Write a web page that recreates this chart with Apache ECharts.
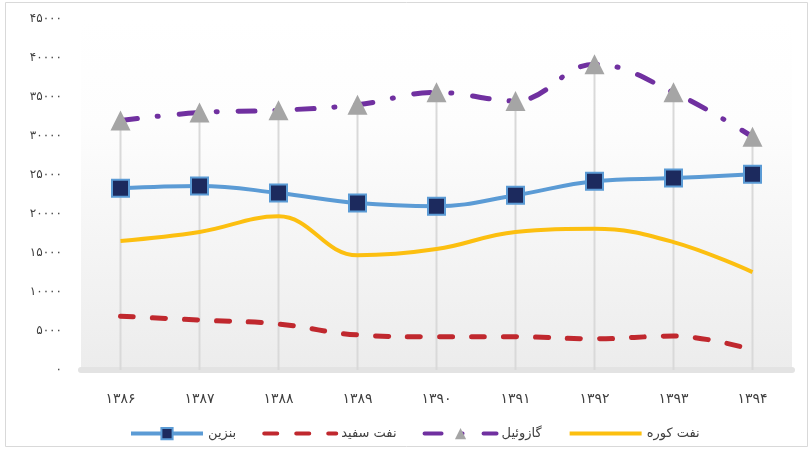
<!DOCTYPE html>
<html>
<head>
<meta charset="utf-8">
<script src="https://cdn.jsdelivr.net/npm/echarts@6/dist/echarts.min.js"></script>
<style>html,body{margin:0;padding:0;background:#fff}#c{width:811px;height:449px}</style>
</head>
<body>
<div id="c"></div>
<script>
const categories = ['۱۳۸۶','۱۳۸۷','۱۳۸۸','۱۳۸۹','۱۳۹۰','۱۳۹۱','۱۳۹۲','۱۳۹۳','۱۳۹۴'];
const seriesNames = ['بنزین','نفت سفید','گازوئیل','نفت کوره'];
const benzin    = [23300, 23600, 22700, 21400, 21000, 22400, 24200, 24600, 25100];
const naftSefid = [6900, 6400, 5900, 4500, 4250, 4250, 4000, 4350, 2600];
const gasoil    = [32000, 33000, 33300, 34000, 35600, 34500, 39200, 35600, 29900];
const naftKoore = [16550, 17700, 19700, 14700, 15500, 17700, 18100, 16400, 12550];
const yMin = 0, yMax = 45000, yStep = 5000;

const fa = s => String(s).replace(/\d/g, d => '۰۱۲۳۴۵۶۷۸۹'[d]);
const FONT = 'DejaVu Sans';
const CLEAR = 'rgba(0,0,0,0)';

const chart = echarts.init(document.getElementById('c'), null, {renderer: 'canvas'});
chart.setOption({
  animation: false,
  backgroundColor: '#ffffff',
  textStyle: {fontFamily: FONT},
  graphic: [{
    type: 'rect', silent: true, z: -10,
    shape: {x: 5.5, y: 2.5, width: 802, height: 444},
    style: {fill: 'none', stroke: '#d9d9d9', lineWidth: 1}
  }],
  grid: {
    left: 81, right: 19, top: 19, bottom: 79,
    show: true, borderWidth: 0,
    backgroundColor: new echarts.graphic.LinearGradient(0, 0, 0, 1, [
      {offset: 0, color: '#ffffff'},
      {offset: 0.3, color: '#fdfdfd'},
      {offset: 1, color: '#ececec'}
    ])
  },
  legend: {
    data: seriesNames,
    left: 124, top: 422,
    itemWidth: 72, itemHeight: 14, itemGap: 26,
    lineStyle: {width: 4},
    textStyle: {fontFamily: FONT, fontSize: 13, color: '#404040'}
  },
  xAxis: {
    type: 'category', data: categories, boundaryGap: true, offset: 5,
    axisLine: {show: true, lineStyle: {color: '#e3e3e3', width: 6}},
    axisTick: {show: false},
    splitLine: {show: false},
    axisLabel: {fontFamily: FONT, fontSize: 14, color: '#404040', margin: 17}
  },
  yAxis: {
    type: 'value', min: yMin, max: yMax, interval: yStep,
    axisLine: {show: false}, axisTick: {show: false},
    splitLine: {show: false},
    axisLabel: {fontFamily: FONT, fontSize: 12, color: '#404040', margin: 19, formatter: v => fa(v)}
  },
  series: [
    {
      name: 'drop', type: 'bar', data: gasoil, barWidth: 2, silent: true, z: 1,
      itemStyle: {color: '#d9d9d9'}
    },
    {
      name: seriesNames[0], type: 'line', data: benzin, smooth: 0.4, z: 5,
      symbol: 'rect', symbolSize: 17,
      lineStyle: {color: '#5b9bd5', width: 4},
      itemStyle: {color: '#1c2a5e', borderColor: '#5b9bd5', borderWidth: 2}
    },
    {
      name: seriesNames[1], type: 'line', data: naftSefid, smooth: 0.4, z: 4,
      symbol: 'circle', showSymbol: false,
      lineStyle: {color: '#c0282e', width: 5, type: [13, 19], cap: 'round'},
      itemStyle: {color: CLEAR, borderWidth: 0}
    },
    {
      name: seriesNames[2], type: 'line', data: gasoil, smooth: 0.4, z: 4,
      symbol: 'triangle', symbolSize: 20,
      lineStyle: {color: '#7030a0', width: 5, type: [17, 20, 1, 21], cap: 'round'},
      itemStyle: {color: '#a5a5a5', borderWidth: 0}
    },
    {
      name: seriesNames[3], type: 'line', data: naftKoore, smooth: 0.4, z: 3,
      symbol: 'circle', showSymbol: false,
      lineStyle: {color: '#fcbf10', width: 4},
      itemStyle: {color: CLEAR, borderWidth: 0}
    }
  ]
});
</script>
</body>
</html>
